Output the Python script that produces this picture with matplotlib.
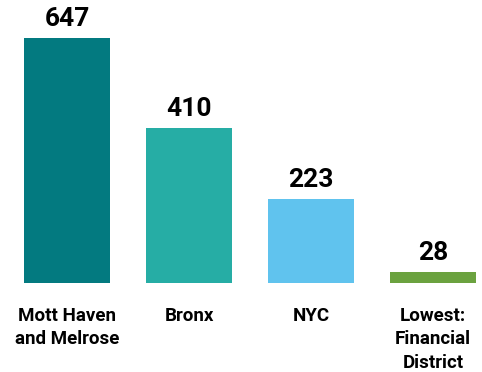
import matplotlib.pyplot as plt

labels = ['Mott Haven\nand Melrose', 'Bronx', 'NYC', 'Lowest:\nFinancial\nDistrict']
values = [647, 410, 223, 28]
colors = ['#037A80', '#26ADA5', '#60C3EE', '#6BA23F']

plt.rcParams['font.family'] = ['Roboto', 'DejaVu Sans']

fig = plt.figure(figsize=(4.82, 3.72), dpi=100)
ax = fig.add_axes([0, 89 / 372, 1, 283 / 372])

x = range(len(values))
bars = ax.bar(x, values, width=0.705, color=colors)

for xi, v in zip(x, values):
    ax.annotate(str(v), (xi, v), xytext=(0, 5), textcoords='offset points',
                ha='center', va='bottom', fontsize=19, fontweight='bold')

for xi, lab in zip(x, labels):
    ax.annotate(lab, (xi, 0), xytext=(0, -17), textcoords='offset points',
                ha='center', va='top', fontsize=13.5, fontweight='bold',
                linespacing=1.4)

ax.set_xlim(-0.549, 3.402)
ax.set_ylim(0, 747)
ax.axis('off')

fig.savefig('out.png', dpi=100)
